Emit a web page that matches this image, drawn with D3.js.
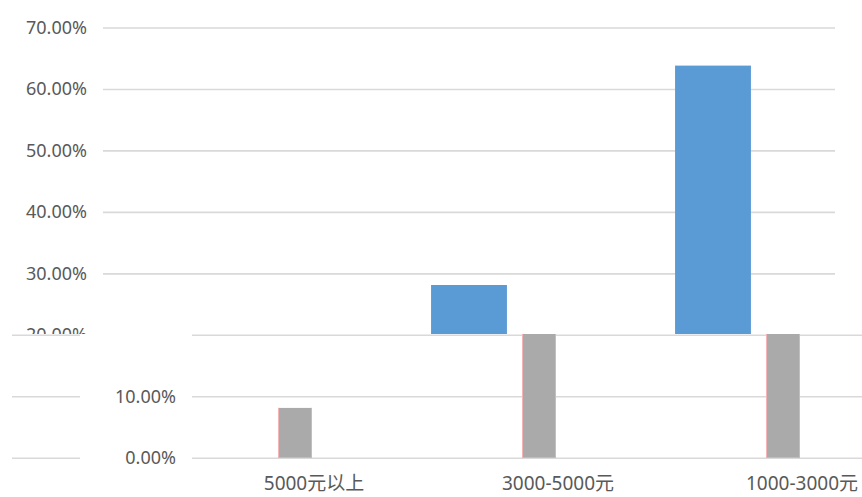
<!DOCTYPE html>
<html>
<head>
<meta charset="utf-8">
<script src="https://cdn.jsdelivr.net/npm/d3@7"></script>
<style>
  html, body { margin: 0; padding: 0; background: #fff; }
  svg { display: block; }
  .tick text { font-family: "Noto Sans", "Noto Sans CJK SC", sans-serif; fill: #595959; }
</style>
</head>
<body>
<svg id="chart" width="862" height="497"></svg>
<script>
// Income bands and the share of respondents in each
const categories = ["5000元以上", "3000-5000元", "1000-3000元"];
const blueValues = [0.081, 0.281, 0.638];
const grayValues = [0.081, 0.281, 0.638];
const yTicks = [0, 0.1, 0.2, 0.3, 0.4, 0.5, 0.6, 0.7];

const W = 862, H = 497;
const seam = 334;            // upper strip ends here, lower strip starts here
const shift = 89;            // horizontal offset of the lower strip

const svg = d3.select("#chart");
const defs = svg.append("defs");
defs.append("clipPath").attr("id", "clipTop")
  .append("rect").attr("x", 0).attr("y", 0).attr("width", W).attr("height", seam);
defs.append("clipPath").attr("id", "clipBottom")
  .append("rect").attr("x", 0).attr("y", seam).attr("width", W).attr("height", H - seam);
defs.append("clipPath").attr("id", "clipWrap")
  .append("rect").attr("x", 12).attr("y", seam).attr("width", W - 12).attr("height", H - seam);

const y = d3.scaleLinear().domain([0, 0.7]).range([457.7, 27.5]);
const x = d3.scaleBand().domain(categories).range([103, 835])
  .paddingInner(0.689).paddingOuter(0.3445);
const plotW = x.range()[1] - x.range()[0];

function gridlines(g, len) {
  const a = d3.axisLeft(y).tickValues(yTicks).tickFormat("").tickSize(-len);
  const ga = g.append("g").attr("transform", `translate(${x.range()[0]},0)`).call(a);
  ga.select(".domain").remove();
  ga.selectAll(".tick text").remove();
  ga.selectAll(".tick line").attr("stroke", "#d9d9d9").attr("stroke-width", 1.6);
}

function valueLabels(g, ticks) {
  const a = d3.axisLeft(y).tickValues(ticks).tickFormat(d3.format(".2%"))
    .tickSize(0).tickPadding(16);
  const ga = g.append("g").attr("transform", `translate(${x.range()[0]},0)`).call(a);
  ga.select(".domain").remove();
  ga.selectAll(".tick text").attr("font-size", 18);
}

function categoryLabels(g) {
  const a = d3.axisBottom(x).tickSize(0).tickPadding(19);
  const ga = g.append("g").attr("transform", `translate(0,${y(0)})`).call(a);
  ga.select(".domain").remove();
  ga.selectAll(".tick text").attr("font-size", 19);
}

function grayBars(g) {
  const gw = 34;
  const bars = g.append("g").selectAll("g").data(categories).join("g")
    .attr("transform", d => `translate(${x(d) + x.bandwidth() / 2 - gw - 2},0)`);
  const barTop = (d, i) => y(grayValues[i]);
  const barH = (d, i) => y(0) - y(grayValues[i]);
  bars.append("rect").attr("x", 0).attr("width", gw)
    .attr("y", barTop).attr("height", barH).attr("fill", "#aaaaaa");
  bars.append("rect").attr("x", 0).attr("width", 1)
    .attr("y", barTop).attr("height", barH).attr("fill", "#f2b4b4");
  bars.append("rect").attr("x", gw - 1).attr("width", 1)
    .attr("y", barTop).attr("height", barH).attr("fill", "#b8b8f4");
}

// upper strip: value axis 20%–70% and the blue series
const upper = svg.append("g").attr("clip-path", "url(#clipTop)");
gridlines(upper, plotW);
valueLabels(upper, yTicks.filter(t => t >= 0.2));
upper.append("g").selectAll("rect").data(categories).join("rect")
  .attr("x", d => x(d))
  .attr("width", x.bandwidth())
  .attr("y", (d, i) => y(blueValues[i]))
  .attr("height", (d, i) => y(0) - y(blueValues[i]))
  .attr("fill", "#5b9bd5");

// lower strip: grey series, shifted right; its gridlines wrap round to the left
const lower = svg.append("g").attr("clip-path", "url(#clipBottom)")
  .append("g").attr("transform", `translate(${shift},0)`);
gridlines(lower, plotW + 18);
valueLabels(lower, yTicks.filter(t => t < 0.2));
grayBars(lower);
categoryLabels(lower);

const wrapped = svg.append("g").attr("clip-path", "url(#clipWrap)")
  .append("g").attr("transform", `translate(${shift - W},0)`);
gridlines(wrapped, plotW + 18);
</script>
</body>
</html>
